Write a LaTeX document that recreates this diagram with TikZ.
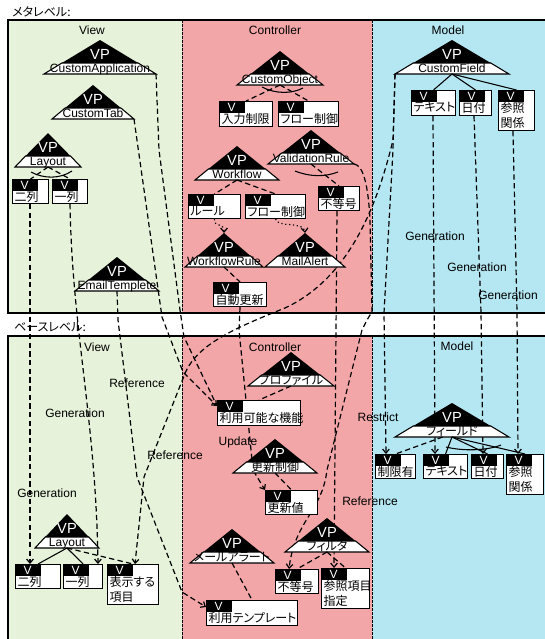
\documentclass[tikz,border=0pt]{standalone}
\usepackage{fontspec}
\setmainfont{Liberation Sans}
\newfontfamily\jp[RawFeature=+palt]{Noto Sans CJK JP}
\usetikzlibrary{arrows.meta,
                calc}
\pgfdeclarelayer{back}
\pgfdeclarelayer{wires}
\pgfsetlayers{back,wires,main}

\definecolor{viewbg}{RGB}{230,242,218}
\definecolor{ctrlbg}{RGB}{242,166,168}
\definecolor{modelbg}{RGB}{181,231,242}

\tikzset{vframe/.style=
   {rectangle,
    draw,
    fill=white,
    line width=0.8pt,
    inner sep=0pt}}
\tikzset{vlabel/.style =
   {text=white,
    inner sep=0pt,
    font=\fontsize{9}{10}\selectfont}}
\tikzset{vtext/.style =
   {inner sep=0.5pt,
    align=left,
    font=\jp\fontsize{9}{11.5}\selectfont}}
\tikzset{vpname/.style =
   {inner sep=0pt,
    anchor=base,
    font=\fontsize{9}{10}\selectfont}}
\tikzset{vplabel/.style =
   {text=white,
    inner sep=0pt,
    font=\fontsize{11}{12}\selectfont}}
\tikzset{caption/.style = {inner sep=0pt, font=\fontsize{9}{10}\selectfont}}
\tikzset{link/.style = {draw, line width=0.9pt, dash pattern=on 4pt off 2.5pt}}
\tikzset{tree/.style = {draw, line width=0.8pt}}
\tikzset{arrow/.style = {link, -{Straight Barb[length=3pt,width=5pt]}}}
\tikzset{hint/.style = {draw, line width=0.9pt, dotted, -{Straight Barb[length=3pt,width=5pt]}}}
\tikzset{column/.style = {draw, line width=0.6pt, dash pattern=on 2pt off 1pt}}
\tikzset{frame/.style = {draw, line width=1.2pt}}

% VP triangle: name, x, apex y, half width, text
\newcommand{\vptri}[5]{%
  \fill[black] (#2,#3) -- ({#2-0.68*#4},{#3+23}) -- ({#2+0.68*#4},{#3+23}) -- cycle;
  \filldraw[fill=white, draw=black, line width=0.8pt]
    ({#2-0.68*#4},{#3+23}) -- ({#2-#4},{#3+34}) -- ({#2+#4},{#3+34})
    -- ({#2+0.68*#4},{#3+23}) -- cycle;
  \coordinate (#1-t) at (#2,#3);
  \coordinate (#1-l) at ({#2-#4},{#3+34});
  \coordinate (#1-r) at ({#2+#4},{#3+34});
  \coordinate (#1-b) at (#2,{#3+34});
  \node[vplabel] (#1-vp) at (#2,{#3+14}) {VP};
  \node[vpname] (#1) at (#2,{#3+32}) {#5};
}
% V box: name, x1, y1, x2, y2, text
\newcommand{\vitem}[6]{%
  \node[vframe, anchor=north west,
        minimum width={(#4-#2)*0.75pt},
        minimum height={(#5-#3)*0.75pt}] (#1) at (#2,#3) {};
  \fill ([xshift=0.4pt,yshift=-0.4pt]#1.north west) rectangle ++(18.75pt,-8.6pt);
  \node[vlabel] (#1-v) at ([xshift=9.5pt,yshift=-4.6pt]#1.north west) {V};
  \node[vtext, anchor=north west] (#1-x) at ([xshift=1.2pt,yshift=-8.6pt]#1.north west) {#6};
}

\begin{document}
\begin{tikzpicture}[x=0.75pt,y=-0.75pt]
\useasboundingbox (0,0) rectangle (545,639);

\begin{pgfonlayer}{back}
  \fill[white] (0,0) rectangle (545,639);
  \fill[viewbg] (8,20) rectangle (182,313);
  \fill[ctrlbg] (182,20) rectangle (372,313);
  \fill[modelbg] (372,20) rectangle (547,313);
  \fill[viewbg] (8,336) rectangle (182,645);
  \fill[ctrlbg] (182,336) rectangle (372,645);
  \fill[modelbg] (372,336) rectangle (547,645);
  \draw[column] (182,20) -- (182,313);
  \draw[column] (372,20) -- (372,313);
  \draw[column] (182,336) -- (182,645);
  \draw[column] (372,336) -- (372,645);
  \draw[frame] (8,20) rectangle (547,313);
  \draw[frame] (8,336) rectangle (547,645);
\end{pgfonlayer}

% level and column titles
\node[caption, anchor=west] (metalevel) at (12,12) {\jp メタレベル:};
\node[caption, anchor=west] (baselevel) at (14,327) {\jp ベースレベル:};
\node[caption] (mview) at (92,30) {View};
\node[caption] (mctrl) at (275,30) {Controller};
\node[caption] (mmodel) at (448,30) {Model};
\node[caption] (bview) at (97,347) {View};
\node[caption] (bctrl) at (275,347) {Controller};
\node[caption] (bmodel) at (457,346) {Model};

% meta level
\vptri{capp}{100}{40}{56}{CustomApplication}
\vptri{ctab}{93}{85}{41}{CustomTab}
\vptri{mlayout}{48}{133}{33}{Layout}
\vptri{email}{117}{257}{42}{EmailTemplete}
\vptri{cobj}{280}{51}{43}{CustomObject}
\vptri{valid}{311}{130}{43}{ValidationRule}
\vptri{wflow}{237}{146}{42}{Workflow}
\vptri{wrule}{224}{233}{39}{WorkflowRule}
\vptri{malert}{305}{233}{40}{MailAlert}
\vptri{cfield}{452}{40}{57}{CustomField}

\vitem{mtwo}{12}{179}{48}{203}{二列}
\vitem{mone}{52}{179}{87}{203}{一列}
\vitem{nyu}{219}{101}{272}{126}{入力制限}
\vitem{flowa}{278}{101}{338}{126}{フロー制御}
\vitem{rule}{188}{194}{240}{218}{ルール}
\vitem{flowb}{245}{194}{305}{218}{フロー制御}
\vitem{jido}{213}{282}{266}{306}{自動更新}
\vitem{mneq}{318}{186}{359}{210}{不等号}
\vitem{mtext}{411}{90}{455}{115}{テキスト}
\vitem{mdate}{459}{90}{491}{115}{日付}
\vitem{mref}{498}{90}{534}{130}{参照\\関係}

% base level
\vptri{blayout}{67}{514}{32}{Layout}
\vptri{prof}{291}{352}{43}{\jp プロファイル}
\vptri{upd}{275}{439}{42}{\jp 更新制御}
\vptri{mail}{232}{529}{42}{\jp メールアラート}
\vptri{filt}{327}{518}{42}{\jp フィルタ}
\vptri{field}{452}{403}{57}{\jp フィールド}

\vitem{btwo}{15}{564}{60}{588}{二列}
\vitem{bone}{63}{564}{102}{588}{一列}
\vitem{disp}{107}{564}{158}{604}{表示する\\項目}
\vitem{avail}{217}{400}{300}{425}{利用可能な機能}
\vitem{updval}{265}{490}{317}{514}{更新値}
\vitem{tmpl}{206}{600}{297}{625}{利用テンプレート}
\vitem{bneq}{275}{569}{318}{593}{不等号}
\vitem{refitem}{321}{568}{369}{608}{参照項目\\指定}
\vitem{restr}{375}{454}{415}{478}{制限有}
\vitem{btext}{423}{454}{467}{478}{テキスト}
\vitem{bdate}{471}{454}{503}{478}{日付}
\vitem{bref}{506}{454}{543}{494}{参照\\関係}

% trees inside each level
\draw[link] (mlayout-b) -- (mtwo.north);
\draw[link] (mlayout-b) -- (mone.north);
\draw[tree] (31,172) .. controls (44,179) and (60,179) .. (72,171);
\draw[link] (cobj-b) -- (nyu.north);
\draw[link] (cobj-b) -- (flowa.north);
\draw[tree] (262,87) .. controls (275,94) and (292,94) .. (303,88);
\draw[link] (wflow-b) -- (rule.north);
\draw[link] (wflow-b) -- (flowb.north);
\draw[link] (valid-b) -- (mneq.north);
\draw[tree] (295,171) .. controls (310,177) and (325,177) .. (338,172);
\draw[hint] (rule.south) .. controls (214,228) and (224,222) .. (wrule-t);
\draw[hint] (flowb.south) .. controls (277,228) and (304,221) .. (malert-t);
\draw[link] (wrule-b) -- (jido.north);
\draw[tree] (cfield-b) -- (mtext.north);
\draw[tree] (cfield-b) -- (mdate.north);
\draw[tree] (cfield-b) -- (mref.north);

\draw[tree] (blayout-b) -- (btwo.north);
\draw[tree] (blayout-b) -- (bone.north);
\draw[link] (blayout-b) -- (disp.north);
\draw[link] (prof-b) -- (avail.north);
\draw[link] (upd-b) -- (updval.north);
\draw[link] (mail-b) -- (tmpl.north);
\draw[link] (filt-b) -- (bneq.north);
\draw[link] (filt-b) -- (refitem.north);
\draw[link] ([xshift=-7pt]field-b) -- (restr.north);
\draw[tree] (field-b) -- (btext.north);
\draw[tree] (field-b) -- (bdate.north);
\draw[tree] (field-b) -- (bref.north);
\draw[tree] (446,447) .. controls (462,451) and (486,451) .. (501,445);

% links from meta level to base level
\begin{pgfonlayer}{wires}
  \draw[arrow] (mtwo.south -| 30,0) -- (30,0 |- btwo.north);
  \draw[arrow] (mone.south) .. controls (72,330) and (96,420) .. (98,0 |- bone.north);
  \draw[arrow] (email-b) -- (118,320) -- (137,477) -- (182,592) -- (tmpl.west |- 0,607);
  \draw[arrow] (cfield-l) -- (393,140) .. controls (375,215) and (345,280) .. (285,308)
    .. controls (235,328) and (195,345) .. (184,376) -- (144,477) -- (135,0 |- disp.north);
  \draw[arrow] (cfield-l) -- (393,150) -- (384,313) -- (386,0 |- restr.north);
  \draw[arrow] (valid-r) .. controls (362,165) and (368,180) .. (370,220) -- (372,312)
    .. controls (368,318) .. (362,330) -- (327,470)
    .. controls (322,512) and (295,520) .. (289,0 |- bneq.north);
  \draw[arrow] (mneq.south -| 337,0) -- (334,0 |- refitem.north);
  \draw[arrow] (jido.south) -- (239,330) -- (253,470) -- (updval.north west);
  \draw[arrow] (capp-r) -- (159,150) -- (180,310) -- (184,337) -- (avail.west |- 0,406);
  \draw[arrow] (ctab-r) -- (162,317) -- (183,372) -- (avail.west |- 0,406);
  \draw[arrow] (mtext.south -| 433,0) -- (435,0 |- btext.north);
  \draw[arrow] (mdate.south -| 474,0) -- (481,312) -- (483,0 |- bdate.north);
  \draw[arrow] (mref.south -| 513,0) -- (517,312) -- (518,0 |- bref.north);
\end{pgfonlayer}

% link labels
\node[caption] (gentwo) at (47,493) {Generation};
\node[caption] (genone) at (75,413) {Generation};
\node[caption] (refmail) at (137,383) {Reference};
\node[caption] (refdisp) at (175,455) {Reference};
\node[caption] (update) at (238,442) {Update};
\node[caption] (restrict) at (378,417) {Restrict};
\node[caption] (refneq) at (370,501) {Reference};
\node[caption] (gentext) at (435,236) {Generation};
\node[caption] (gendate) at (477,267) {Generation};
\node[caption] (genref) at (508,295) {Generation};

\end{tikzpicture}
\end{document}
